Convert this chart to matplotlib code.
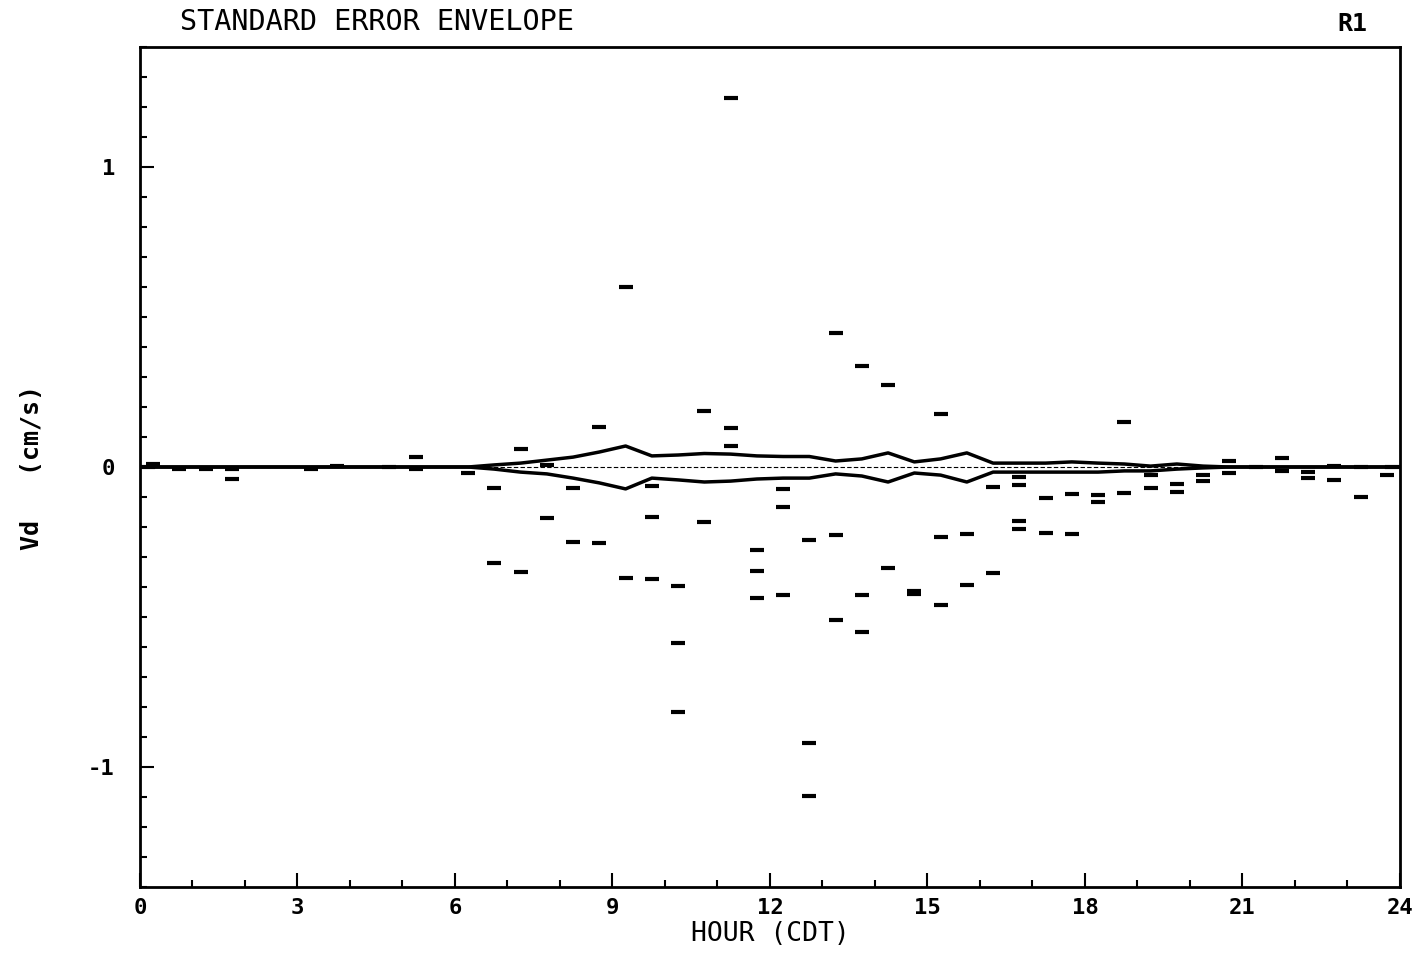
import numpy as np
import matplotlib
matplotlib.use("Agg")
import matplotlib.pyplot as plt
from matplotlib.ticker import MultipleLocator, FixedLocator

# half-hour bin centres and the individual Vd values in each bin (cm/s)
obs_hours = [0.25, 0.75, 1.25, 1.75, 1.75, 3.25, 3.75, 4.75, 5.25, 5.25,
             6.25, 6.75, 6.75, 7.25, 7.25, 7.75, 7.75, 8.25, 8.25, 8.75, 8.75,
             9.25, 9.25, 9.75, 9.75, 9.75, 10.25, 10.25, 10.25, 10.75, 10.75,
             11.25, 11.25, 11.25, 11.75, 11.75, 11.75, 12.25, 12.25, 12.25,
             12.75, 12.75, 12.75, 13.25, 13.25, 13.25, 13.75, 13.75, 13.75,
             14.25, 14.25, 14.75, 14.75, 15.25, 15.25, 15.25, 15.75, 15.75,
             16.25, 16.25, 16.75, 16.75, 16.75, 16.75, 17.25, 17.25, 17.75, 17.75,
             18.25, 18.25, 18.75, 18.75, 19.25, 19.25, 19.75, 19.75, 20.25, 20.25,
             20.75, 20.75, 21.25, 21.75, 21.75, 22.25, 22.25, 22.75, 22.75,
             23.25, 23.25, 23.75]
obs_vd = [0.01, -0.005, -0.005, -0.005, -0.04, -0.005, 0.005, 0.0, 0.035, -0.005,
          -0.02, -0.07, -0.32, 0.06, -0.35, 0.007, -0.17, -0.07, -0.25, 0.133, -0.253,
          0.60, -0.37, -0.063, -0.167, -0.373, -0.397, -0.587, -0.817, 0.187, -0.183,
          1.23, 0.13, 0.07, -0.277, -0.347, -0.437, -0.073, -0.133, -0.427,
          -0.243, -0.92, -1.097, 0.447, -0.227, -0.51, 0.337, -0.427, -0.55,
          0.273, -0.337, -0.415, -0.425, 0.177, -0.233, -0.46, -0.223, -0.393,
          -0.067, -0.353, -0.033, -0.06, -0.18, -0.207, -0.103, -0.22, -0.09, -0.223,
          -0.093, -0.117, 0.15, -0.087, -0.027, -0.07, -0.057, -0.083, -0.027, -0.047,
          0.02, -0.02, 0.0, 0.03, -0.013, -0.017, -0.037, 0.003, -0.043,
          0.0, -0.10, -0.027]

# standard error envelope at each half-hour centre
env_hours = np.arange(0.25, 24, 0.5)
env_upper = [0, 0, 0, 0, 0, 0, 0, 0, 0, 0, 0, 0, 0,
             0.007, 0.013, 0.023, 0.033, 0.05, 0.07, 0.037, 0.04, 0.045, 0.043,
             0.037, 0.035, 0.035, 0.02, 0.027, 0.047, 0.017, 0.027, 0.047, 0.013,
             0.013, 0.013, 0.017, 0.013, 0.01, 0.003, 0.01, 0.003,
             0, 0, 0, 0, 0, 0, 0]
env_lower = [0, 0, 0, 0, 0, 0, 0, 0, 0, 0, 0, 0, 0,
             -0.007, -0.017, -0.023, -0.037, -0.053, -0.073, -0.037, -0.043, -0.05,
             -0.047, -0.04, -0.037, -0.037, -0.023, -0.03, -0.05, -0.02, -0.027, -0.05,
             -0.017, -0.017, -0.017, -0.017, -0.017, -0.013, -0.013, -0.007, -0.003,
             0, 0, 0, 0, 0, 0, 0]

mono = "DejaVu Sans Mono"

fig = plt.figure(figsize=(14.21, 9.56), dpi=100)
ax = fig.add_axes([0.0985, 0.0722, 0.8867, 0.8786])

ax.axhline(0, color="black", lw=0.8, ls=(0, (4, 2)))
ax.plot(env_hours, env_upper, color="black", lw=2.5)
ax.plot(env_hours, env_lower, color="black", lw=2.5)
ax.plot([0, env_hours[0]], [0, 0], color="black", lw=3)
ax.plot([env_hours[-1], 24], [0, 0], color="black", lw=3)
ax.plot(obs_hours, obs_vd, ls="none", marker="_", markersize=10,
        markeredgewidth=3, color="black")

ax.set_xlim(0, 24)
ax.set_ylim(-1.4, 1.4)
ax.xaxis.set_major_locator(MultipleLocator(3))
ax.xaxis.set_minor_locator(MultipleLocator(1))
ax.yaxis.set_major_locator(FixedLocator([-1, 0, 1]))
ax.yaxis.set_minor_locator(MultipleLocator(0.1))
ax.tick_params(axis="both", which="both", direction="in", top=False, right=False,
               width=1.5)
ax.tick_params(axis="both", which="major", length=10)
ax.tick_params(axis="both", which="minor", length=5)
ax.tick_params(axis="x", pad=8)
ax.tick_params(axis="y", pad=18)
for s in ax.spines.values():
    s.set_linewidth(2)

for lab in ax.get_xticklabels() + ax.get_yticklabels():
    lab.set_fontfamily(mono)
    lab.set_fontsize(16)
    lab.set_fontweight("bold")
ax.set_yticklabels(["-1", "0", "1"])

ax.set_xlabel("HOUR (CDT)", fontfamily=mono, fontsize=19, labelpad=2)
ax.set_ylabel("Vd   (cm/s)", fontfamily=mono, fontsize=18, fontweight="bold",
              labelpad=32)

fig.text(0.127, 0.962, "STANDARD ERROR ENVELOPE", fontfamily=mono, fontsize=20.5,
         va="bottom", ha="left")
fig.text(0.962, 0.962, "R1", fontfamily=mono, fontsize=18, fontweight="bold",
         va="bottom", ha="right")

fig.savefig("out.png", dpi=100)
